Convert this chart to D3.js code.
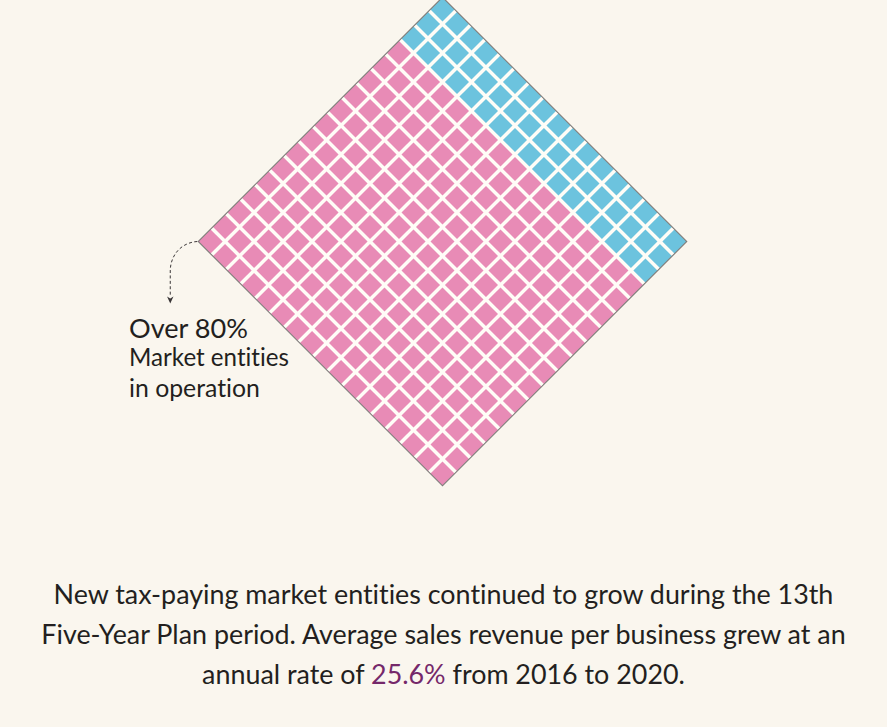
<!DOCTYPE html>
<html>
<head>
<meta charset="utf-8">
<script src="https://cdn.jsdelivr.net/npm/d3@7/dist/d3.min.js"></script>
<style>
  html, body { margin: 0; padding: 0; background: #faf6ee; }
  svg { display: block; }
  text { font-variant-ligatures: none; }
</style>
</head>
<body>
<svg id="chart" width="887" height="727"></svg>
<script>
// ---- data ----
const gridSize = 17;                                   // cells per side
const categories = ["Other market entities", "Market entities in operation"];
const rowCounts = [3, 14];                             // rows of the grid per category (top rows first)
const categoryColors = ["#6cc3de", "#e88bb6"];
const labelLines = ["Over 80%", "Market entities", "in operation"];
const paragraphLines = [
  ["New tax-paying market entities continued to grow during the 13th"],
  ["Five-Year Plan period. Average sales revenue per business grew at an"],
  ["annual rate of ", "25.6%", " from 2016 to 2020."]
];
const highlight = "25.6%";

// ---- layout ----
const W = 887, H = 727;
const cx = 442.5, cy = 241.5;
const side = 345.4;
const fontFamily = "Lato, 'Open Sans', sans-serif";

const svg = d3.select("#chart");
svg.append("rect").attr("width", W).attr("height", H).attr("fill", "#faf6ee");

// build cell table
const cells = [];
let r0 = 0;
rowCounts.forEach((n, ci) => {
  for (let r = r0; r < r0 + n; r++) {
    for (let c = 0; c < gridSize; c++) cells.push({ row: r, col: c, cat: ci });
  }
  r0 += n;
});

const band = d3.scaleBand()
  .domain(d3.range(gridSize))
  .range([-side / 2, side / 2])
  .paddingInner(0.17)
  .paddingOuter(0.01);

const color = d3.scaleOrdinal().domain(d3.range(categories.length)).range(categoryColors);

const g = svg.append("g").attr("transform", `translate(${cx},${cy}) rotate(45)`);

g.append("rect")
  .attr("x", -side / 2).attr("y", -side / 2)
  .attr("width", side).attr("height", side)
  .attr("fill", "#fffdf7");

g.selectAll("rect.cell")
  .data(cells)
  .join("rect")
  .attr("class", "cell")
  .attr("x", d => band(d.col))
  .attr("y", d => band(d.row))
  .attr("width", band.bandwidth())
  .attr("height", band.bandwidth())
  .attr("fill", d => color(d.cat));

g.append("rect")
  .attr("x", -side / 2).attr("y", -side / 2)
  .attr("width", side).attr("height", side)
  .attr("fill", "none")
  .attr("stroke", "#7d7a78")
  .attr("stroke-width", 1.1);

// ---- dashed pointer from left vertex ----
const leftVertex = [cx - side / Math.SQRT2, cy];
const arrow = d3.path();
arrow.moveTo(leftVertex[0] - 1, leftVertex[1]);
arrow.bezierCurveTo(leftVertex[0] - 16, leftVertex[1] + 1, leftVertex[0] - 27, leftVertex[1] + 12, leftVertex[0] - 28, leftVertex[1] + 28);
arrow.lineTo(leftVertex[0] - 28, leftVertex[1] + 55);
svg.append("path")
  .attr("d", arrow.toString())
  .attr("fill", "none")
  .attr("stroke", "#3a3637")
  .attr("stroke-width", 1)
  .attr("stroke-dasharray", "3,2.4");
const tip = [leftVertex[0] - 28, leftVertex[1] + 62];
svg.append("path")
  .attr("d", `M${tip[0]},${tip[1]} L${tip[0] - 3.2},${tip[1] - 7} L${tip[0]},${tip[1] - 5} L${tip[0] + 3.2},${tip[1] - 7} Z`)
  .attr("fill", "#3a3637");

// ---- label ----
const label = svg.append("g").attr("font-family", fontFamily).attr("fill", "#231f20");
const labelY = [338, 366, 397];
const labelSize = [25, 21.5, 21.5];
const labelWidth = [119, 160, 131];
labelLines.forEach((t, i) => {
  const el = label.append("text")
    .attr("x", 129).attr("y", labelY[i])
    .attr("font-size", labelSize[i])
    .text(t);
  const w = el.node().getComputedTextLength();
  el.attr("font-size", labelSize[i] * labelWidth[i] / w);
});

// ---- paragraph ----
const para = svg.append("g").attr("font-family", fontFamily).attr("fill", "#231f20").attr("text-anchor", "middle");
const paraY = [604, 644, 684];
const texts = paragraphLines.map((parts, i) => {
  const t = para.append("text").attr("x", 443.5).attr("y", paraY[i]).attr("font-size", 25);
  parts.forEach(p => {
    t.append("tspan").text(p).attr("fill", p === highlight ? "#75286a" : null);
  });
  return t;
});
const w0 = texts[0].node().getComputedTextLength();
const fs = 25 * 780 / w0;
texts.forEach(t => t.attr("font-size", fs));
</script>
</body>
</html>
